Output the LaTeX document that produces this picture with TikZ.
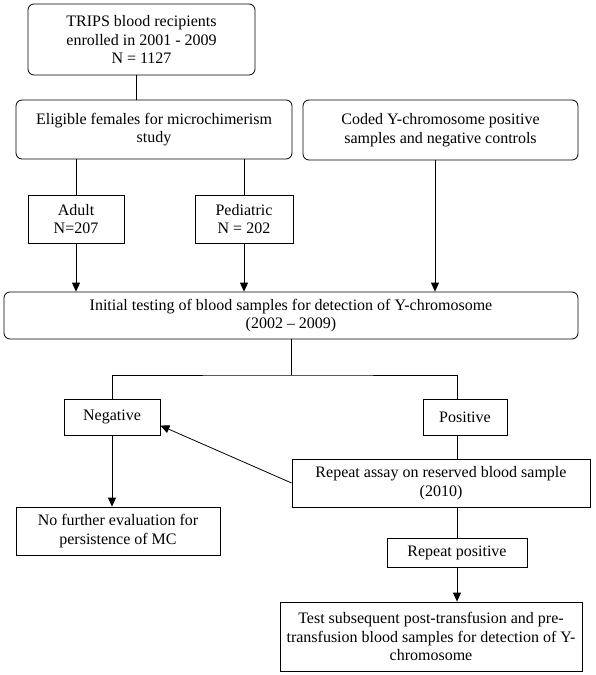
\documentclass[tikz,border=0pt]{standalone}
\usepackage{fontspec}
\setmainfont{Liberation Serif}
\usetikzlibrary{arrows.meta}
\begin{document}
\begin{tikzpicture}[
        x=1pt, y=-1pt,
        >={Triangle[width=8pt,length=9pt]},
        every node/.style={font=\fontsize{16}{18.4}\selectfont, align=center, inner sep=0pt},
        rbox/.style={draw, rounded corners=6pt, line width=0.8pt},
        sbox/.style={draw, line width=0.8pt},
        conn/.style={line width=0.8pt},
        ]
    \useasboundingbox (0,0) rectangle (595,675);
    % top row
    \node [rbox, minimum width=227pt, minimum height=71pt] (trips) at (141.5,39.5)
        {TRIPS blood recipients\\enrolled in 2001 - 2009\\N = 1127};
    \node [rbox, minimum width=276pt, minimum height=59pt] (elig) at (154,129.5)
        {Eligible females for microchimerism\\study};
    \node [rbox, minimum width=275pt, minimum height=60pt] (coded) at (440.5,130)
        {Coded Y-chromosome positive\\samples and negative controls};
    \node [sbox, minimum width=96pt, minimum height=48pt] (adult) at (76,219)
        {Adult\\N=207};
    \node [sbox, minimum width=98pt, minimum height=48pt] (ped) at (244,219)
        {Pediatric\\N = 202};
    % testing
    \node [rbox, minimum width=574pt, minimum height=47pt] (init) at (291,315.5)
        {Initial testing of blood samples for detection of Y-chromosome\\(2002 -- 2009)};
    \coordinate (split) at (291,375);
    \node [sbox, minimum width=96pt, minimum height=36pt] (neg) at (112,417) {Negative};
    \node [sbox, minimum width=84pt, minimum height=36pt] (pos) at (465,417) {Positive};
    \node [sbox, minimum width=298pt, minimum height=48pt] (rep) at (441,483)
        {Repeat assay on reserved blood sample\\(2010)};
    \node [sbox, minimum width=204pt, minimum height=48pt] (nofur) at (118,531)
        {No further evaluation for\\persistence of MC};
    \node [sbox, minimum width=140pt, minimum height=29pt] (rpos) at (457,552.5)
        {Repeat positive};
    \node [sbox, minimum width=302pt, minimum height=69pt] (test) at (431,636.5)
        {Test subsequent post-transfusion and pre-\\transfusion blood samples for detection of Y-\\chromosome};
    % connectors
    \draw [conn] (trips.south -| 136,0) -- (elig.north -| 136,0);
    \draw [conn] (elig.south -| adult.north) -- (adult.north);
    \draw [conn] (elig.south -| ped.north) -- (ped.north);
    \draw [conn,->] (adult.south) -- (adult.south |- init.north);
    \draw [conn,->] (ped.south) -- (ped.south |- init.north);
    \draw [conn,->] (coded.south -| 435,0) -- (init.north -| 435,0);
    \draw [conn] (init.south) -- (split);
    \draw [conn] (neg.north) |- (split) -| (pos.north -| rpos);
    \draw [conn] (pos.south -| rpos) -- (rep.north -| rpos);
    \draw [conn,->] (rep.west) -- (neg.-10);
    \draw [conn,->] (neg.south) -- (neg.south |- nofur.north);
    \draw [conn] (rep.south -| rpos) -- (rpos.north);
    \draw [conn,->] (rpos.south) -- (rpos.south |- test.north);
\end{tikzpicture}
\end{document}
